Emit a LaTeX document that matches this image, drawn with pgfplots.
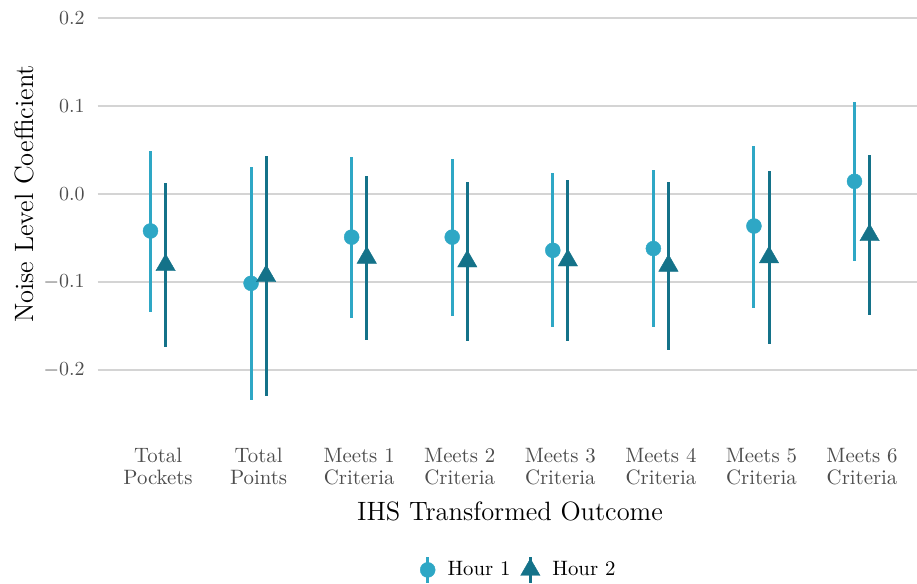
\documentclass[border=0pt]{standalone}
\usepackage{fontspec}
\usepackage{pgfplots}
\usepackage{pgfplotstable}
\pgfplotsset{compat=1.18}

\definecolor{hourone}{RGB}{46,167,197}
\definecolor{hourtwo}{RGB}{20,114,137}
\definecolor{gridgray}{RGB}{212,212,212}
\definecolor{ticktext}{RGB}{77,77,77}

% estimate, lower and upper bound of the interval
\pgfplotstableread{
x y lo hi
0 -0.0420 -0.1340 0.0490
1 -0.1015 -0.2340 0.0310
2 -0.0490 -0.1410 0.0420
3 -0.0490 -0.1390 0.0400
4 -0.0640 -0.1515 0.0235
5 -0.0620 -0.1510 0.0273
6 -0.0364 -0.1295 0.0545
7  0.0144 -0.0758 0.1050
}\hourone

\pgfplotstableread{
x y lo hi
0 -0.0808 -0.1740 0.0125
1 -0.0933 -0.2295 0.0436
2 -0.0724 -0.1660 0.0210
3 -0.0766 -0.1670 0.0140
4 -0.0755 -0.1667 0.0160
5 -0.0815 -0.1770 0.0140
6 -0.0720 -0.1700 0.0260
7 -0.0467 -0.1380 0.0443
}\hourtwo

\begin{document}
\begin{tikzpicture}
\useasboundingbox (-48.85bp,-76.2bp) rectangle (409.65bp,215.8bp);
\begin{axis}[
  at={(0,0)}, anchor=south west,
  scale only axis,
  width=412.35bp, height=237.6bp,
  xmin=-0.6, xmax=7.6,
  ymin=-0.27, ymax=0.27,
  clip=false,
  axis line style={draw=none},
  major tick length=0pt,
  xtick={0,...,7},
  xticklabels={{Total\\Pockets},{Total\\Points},{Meets 1\\Criteria},{Meets 2\\Criteria},
               {Meets 3\\Criteria},{Meets 4\\Criteria},{Meets 5\\Criteria},{Meets 6\\Criteria}},
  xticklabel style={align=center, anchor=north, inner sep=0pt, yshift=-8.1bp,
                    text=ticktext, font=\fontsize{10.4bp}{11bp}\selectfont},
  ytick={-0.2,-0.1,0,0.1,0.2},
  yticklabel style={anchor=east, inner sep=0pt, xshift=-6.35bp, text=ticktext,
                    font=\fontsize{10.4bp}{11bp}\selectfont,
                    /pgf/number format/fixed, /pgf/number format/fixed zerofill,
                    /pgf/number format/precision=1},
  ymajorgrids,
  major grid style={gridgray, line width=0.9bp},
  xlabel={IHS Transformed Outcome},
  xlabel style={at={(axis description cs:0.5,-0.18813)}, anchor=base, inner sep=0pt,
                font=\fontsize{13.25bp}{15bp}\selectfont},
  ylabel={Noise Level Coefficient},
  ylabel style={at={(axis description cs:-0.07845,0.5)}, anchor=base, inner sep=0pt,
                font=\fontsize{13.25bp}{15bp}\selectfont},
  legend columns=2,
  legend style={at={(axis description cs:0.50946,-0.25968)}, anchor=north,
                draw=none, fill=none, inner sep=0pt,
                font=\fontsize{10.4bp}{11bp}\selectfont,
                nodes={inner sep=0pt},
                /tikz/every odd column/.append style={column sep=6.2bp},
                /tikz/every even column/.append style={column sep=5bp}},
]

\addplot[only marks, color=hourone, mark=*, mark size=3.75bp,
  mark options={solid, fill=hourone, draw=hourone, line width=0.2bp},
  error bars/.cd, y dir=both, y explicit, error mark=none,
  error bar style={line width=1.5bp, hourone},
  /pgfplots/legend image code/.code={
    \draw[hourone, line width=1.5bp] (0bp,-6.5bp) -- (0bp,6.5bp);
    \draw[hourone, mark=*, mark size=3.75bp, mark options={solid, fill=hourone, line width=0.2bp}]
      plot coordinates {(0bp,0bp)};}]
  table[x expr=\thisrow{x}-0.075, y=y,
        y error plus expr=\thisrow{hi}-\thisrow{y},
        y error minus expr=\thisrow{y}-\thisrow{lo}] {\hourone};
\addlegendentry{Hour 1}

\addplot[only marks, color=hourtwo, mark=triangle*, mark size=5.6bp,
  mark options={solid, fill=hourtwo, draw=hourtwo, line width=0.2bp},
  error bars/.cd, y dir=both, y explicit, error mark=none,
  error bar style={line width=1.5bp, hourtwo},
  /pgfplots/legend image code/.code={
    \draw[hourtwo, line width=1.5bp] (0bp,-6.5bp) -- (0bp,6.5bp);
    \draw[hourtwo, mark=triangle*, mark size=5.6bp, mark options={solid, fill=hourtwo, line width=0.2bp}]
      plot coordinates {(0bp,0bp)};}]
  table[x expr=\thisrow{x}+0.075, y=y,
        y error plus expr=\thisrow{hi}-\thisrow{y},
        y error minus expr=\thisrow{y}-\thisrow{lo}] {\hourtwo};
\addlegendentry{Hour 2}

\end{axis}
\end{tikzpicture}
\end{document}
